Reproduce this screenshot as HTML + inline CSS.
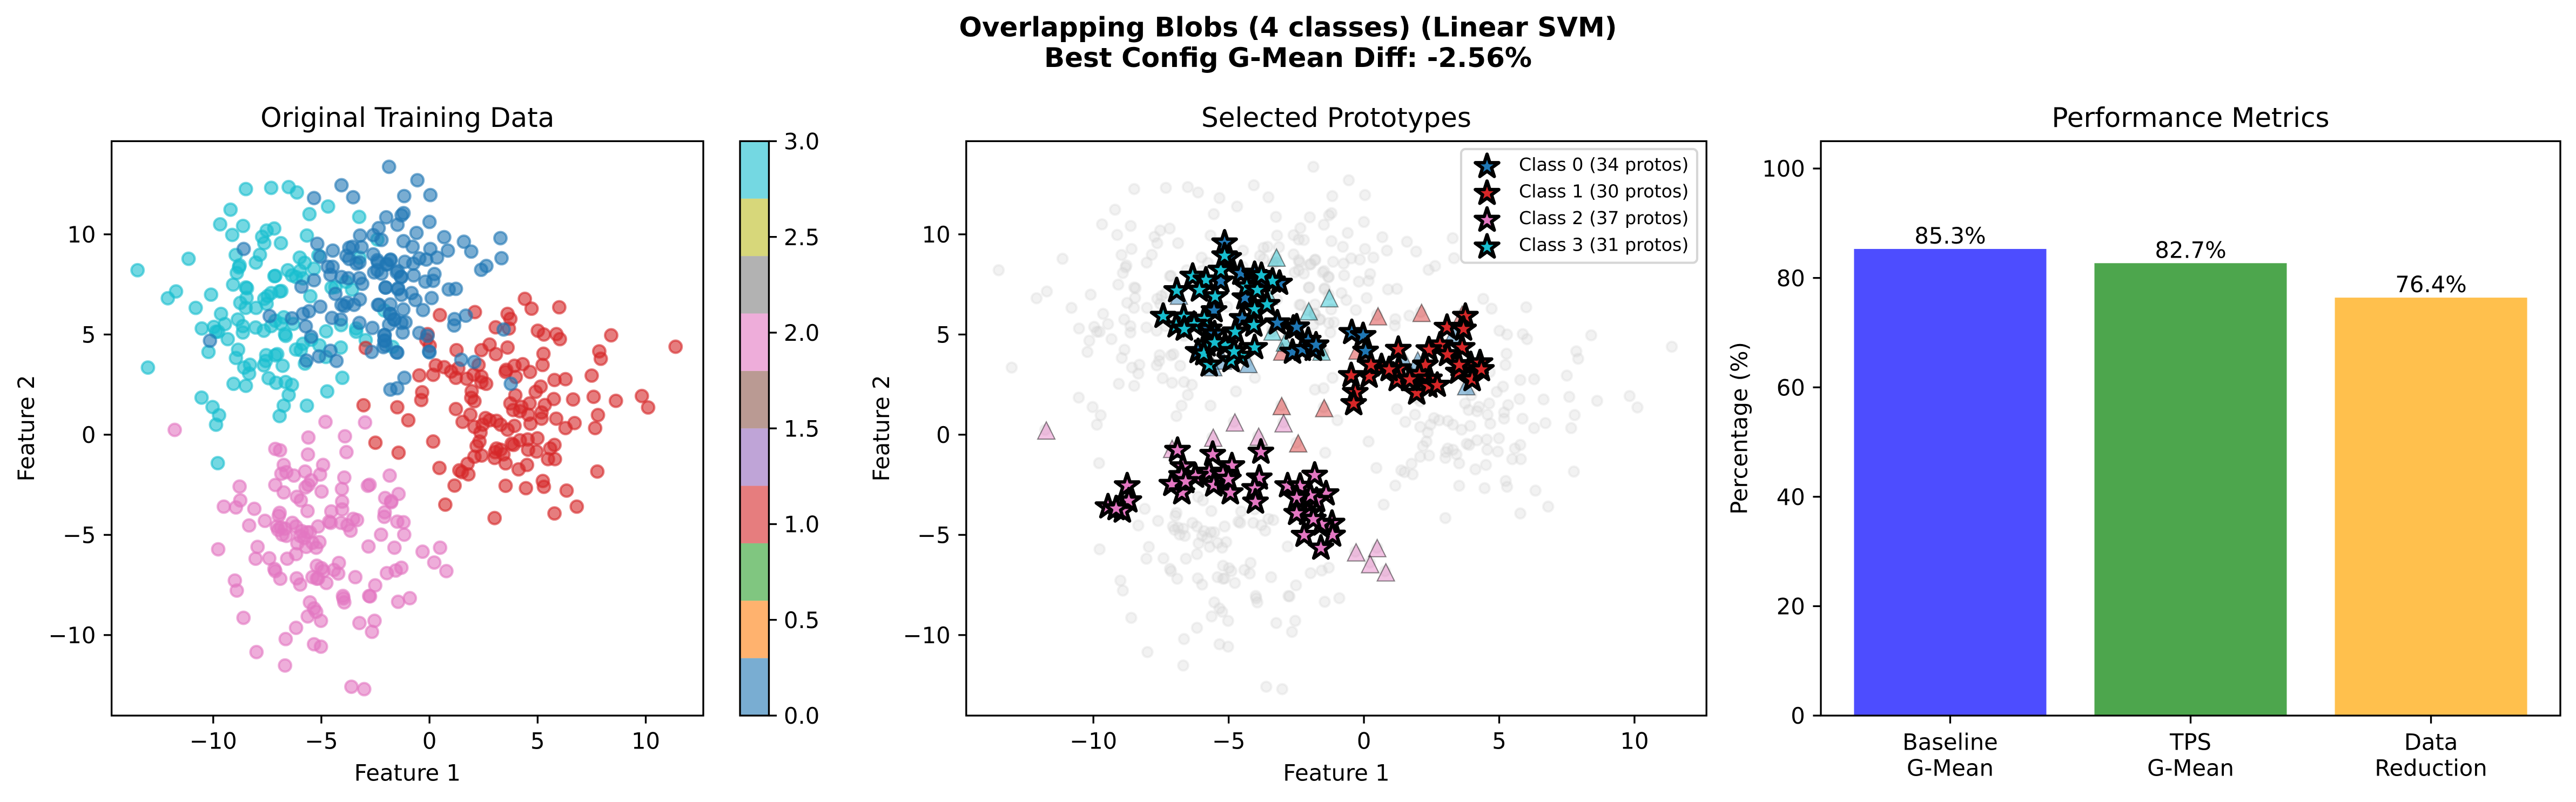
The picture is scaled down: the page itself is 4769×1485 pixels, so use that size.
<!DOCTYPE html>
<html lang="en">
<head>
<meta charset="utf-8">
<title>Overlapping Blobs (4 classes) (Linear SVM)</title>
<style>
html,body{margin:0;padding:0;background:#fff;}
svg{display:block;}
text{font-family:"DejaVu Sans","Liberation Sans",sans-serif;fill:#000;}
</style>
</head>
<body>
<svg id="chart" xmlns="http://www.w3.org/2000/svg" width="4769" height="1485" viewBox="0 0 4769 1485">
<rect x="0" y="0" width="4769" height="1485" fill="#fff"/>
<text x="2384.5" y="67.5" text-anchor="middle" font-size="50" font-weight="bold">Overlapping Blobs (4 classes) (Linear SVM)</text>
<text x="2384.5" y="124" text-anchor="middle" font-size="50" font-weight="bold">Best Config G-Mean Diff: -2.56%</text>
<text x="754.3" y="235" text-anchor="middle" font-size="50">Original Training Data</text>
<text x="2474" y="235" text-anchor="middle" font-size="50">Selected Prototypes</text>
<text x="4055.5" y="235" text-anchor="middle" font-size="50">Performance Metrics</text>
<text x="754.3" y="1445.5" text-anchor="middle" font-size="41.67">Feature 1</text>
<text x="2474" y="1445.5" text-anchor="middle" font-size="41.67">Feature 1</text>
<text transform="translate(63,793) rotate(-90)" text-anchor="middle" font-size="41.67">Feature 2</text>
<text transform="translate(1646,793) rotate(-90)" text-anchor="middle" font-size="41.67">Feature 2</text>
<text transform="translate(3234.5,793) rotate(-90)" text-anchor="middle" font-size="41.67">Percentage (%)</text>
<g id="layer-training"></g>
<g id="layer-colorbar"></g>
<g id="layer-proto"></g>
<g id="layer-bars"></g>
<g id="layer-axes"></g>
<g>
<rect x="2705" y="276" width="437" height="210.6" rx="8" ry="8" fill="#fff" fill-opacity="0.8" stroke="#d6d6d6" stroke-width="4.17"/>
<g id="layer-legend-markers"></g>
<text x="2812" y="316" font-size="33.33">Class 0 (34 protos)</text>
<text x="2812" y="365.5" font-size="33.33">Class 1 (30 protos)</text>
<text x="2812" y="415" font-size="33.33">Class 2 (37 protos)</text>
<text x="2812" y="464.5" font-size="33.33">Class 3 (31 protos)</text>
</g>
</svg>
<script>
// ---------- chart data ----------
const trainClass0 = [[-1.87,13.37],[-0.56,12.70],[-4.07,12.45],[-5.34,11.81],[-3.53,11.85],[-1.17,11.91],[0.04,11.96],[-2.0,10.85],[-1.2,11.06],[-1.29,10.95],[-1.48,10.48],[-2.35,10.31],[-0.6,10.07],[0.0,10.62],[-2.6,9.96],[-2.22,9.72],[-3.21,9.94],[-5.19,9.53],[-4.47,9.19],[-8.59,9.27],[-1.2,9.66],[-0.78,9.38],[0.04,9.27],[0.68,9.86],[1.59,9.63],[1.93,9.14],[0.85,9.19],[3.28,9.81],[3.33,8.81],[2.63,8.42],[2.39,8.23],[0.35,8.84],[-0.15,8.74],[-0.47,8.80],[-1.14,8.63],[-0.75,8.54],[-1.81,8.71],[-2.0,8.49],[-2.38,8.6],[-0.73,7.95],[0.23,8.02],[0.17,7.68],[-0.19,7.64],[-1.47,8.17],[-1.30,7.87],[-2.03,7.34],[-1.46,7.26],[-1.30,6.98],[-0.83,7.07],[-0.65,6.72],[0.1,6.82],[0.89,7.25],[1.22,7.28],[-2.38,6.48],[-1.81,6.5],[-1.21,6.25],[-0.3,6.22],[-1.81,6.03],[-1.62,5.75],[-1.30,5.58],[-1.87,5.49],[-1.11,5.61],[-1.24,5.10],[-0.47,5.08],[-0.09,4.93],[-2.07,4.97],[-2.07,4.69],[-2.13,4.37],[-1.49,4.1],[-0.02,4.15],[0,4.11],[1.47,3.74],[2.07,3.63],[1.16,5.77],[1.14,5.45],[1.68,5.94],[3.43,5.25],[-1.16,2.84],[-1.49,2.32],[-1.81,2.25],[3.76,2.54],[-3.71,9.33],[-3.56,9.38],[-3.14,9.36],[-5.05,8.88],[-3.84,8.93],[-3.71,8.77],[-3.37,8.54],[-3.24,8.60],[-2.6,9.0],[-2.41,8.71],[-1.8,8.74],[-1.96,8.52],[-4.7,8.38],[-4.48,8.38],[-4.58,7.98],[-4.07,7.87],[-3.75,7.81],[-3.24,7.81],[-3.11,7.53],[-5.34,7.71],[-5.92,7.39],[-2.56,8.10],[-2.41,8.21],[-2.22,8.04],[-1.52,8.1],[-1.32,7.87],[-4.35,7.03],[-2.03,7.35],[-1.45,7.31],[-3.22,6.75],[-4.07,6.48],[-3.81,6.59],[-3.94,6.42],[-3.49,6.48],[-5.05,6.39],[-2.33,6.48],[-5.57,6.16],[-5.85,6.03],[-6.36,5.81],[-7.39,5.92],[-4.51,5.83],[-4.1,5.75],[-3.24,5.58],[-2.64,5.33],[-1.83,6.03],[-1.64,5.75],[-5.72,5.41],[-5.47,4.89],[-2.09,4.97],[-2.09,4.69],[-2.03,4.46],[-2.67,4.13],[-1.52,4.11],[-10.15,4.69],[-5.69,3.70],[-5.11,3.91],[-4.58,4.19],[-4.3,3.68]];
const trainClass1 = [[4.41,6.78],[4.72,6.29],[6.0,6.36],[8.40,4.96],[11.38,4.39],[0.48,5.97],[2.1,6.12],[3.61,6.03],[3.74,5.78],[3.06,5.36],[3.67,5.30],[5.01,5.19],[5.29,5.0],[5.87,5.02],[6.03,4.77],[-0.09,5.02],[-0.15,4.74],[0.01,4.44],[1.25,4.22],[2.4,4.22],[2.78,4.50],[3.07,4.02],[3.61,4.35],[5.27,4.04],[5.23,3.48],[7.85,4.16],[7.92,3.79],[7.5,2.95],[2.27,3.48],[0.29,3.46],[0.68,3.37],[1.33,3.31],[1.0,3.15],[-0.47,2.96],[0.17,2.99],[1.22,2.84],[1.72,2.79],[2.04,3.0],[2.4,2.9],[2.4,2.62],[2.62,2.54],[3.55,3.24],[3.52,3.13],[3.93,3.44],[4.31,3.52],[4.65,3.13],[3.99,2.88],[5.78,2.73],[6.29,2.77],[5.14,2.40],[4.91,2.14],[3.97,1.97],[-0.34,2.12],[-0.38,1.73],[1.95,2.17],[1.93,1.84],[2.08,1.67],[1.22,1.28],[-1.49,1.37],[-0.98,0.72],[3.74,1.56],[4.25,1.39],[4.63,1.56],[3.87,1.23],[4.18,1.17],[4.57,1.0],[5.33,1.48],[5.18,1.11],[5.18,0.8],[5.75,1.78],[6.64,1.76],[7.59,1.89],[8.62,1.69],[9.82,1.93],[10.11,1.36],[7.79,0.98],[5.86,0.8],[6.71,0.58],[6.29,0.33],[7.66,0.33],[4.67,0.55],[3.93,0.44],[3.61,0.25],[1.89,1.0],[1.53,0.64],[2.59,0.83],[2.78,0.72],[3.1,0.69],[3.29,0.5],[2.46,0.5],[2.08,0.39],[2.36,0.11],[0.17,-0.34],[-2.5,-0.4],[-1.43,-0.9],[-2.95,4.33],[-3.05,1.47],[2.31,-0.34],[2.18,-0.57],[2.08,-1.1],[2.41,-1.04],[1.76,-1.45],[1.38,-1.78],[1.5,-1.87],[1.8,-1.98],[0.46,-1.66],[1.16,-2.54],[0.73,-3.49],[3.01,-4.16],[3.1,-0.69],[3.03,-0.87],[3.29,-0.75],[3.42,-0.98],[3.01,-1.16],[3.52,-1.43],[3.8,-0.45],[3.89,-0.51],[4.18,-0.28],[4.54,-0.24],[4.99,-0.18],[4.56,-0.75],[4.95,-0.84],[5.58,-0.69],[5.78,-0.51],[5.48,-1.22],[5.8,-1.22],[4.12,-1.73],[4.51,-1.51],[7.76,-1.84],[3.52,-2.55],[4.46,-2.67],[5.24,-2.31],[5.29,-2.6],[6.34,-2.79],[6.81,-3.59],[5.78,-3.93]];
const trainClass2 = [[-11.78,0.24],[-4.81,0.64],[-2.98,0.61],[-5.6,-0.14],[-3.91,-0.08],[-7.13,-0.71],[-6.91,-0.78],[-5.62,-0.99],[-3.84,-0.87],[-6.74,-1.51],[-6.85,-1.95],[-6.62,-1.87],[-6.27,-2.04],[-5.75,-1.84],[-4.92,-1.51],[-5.06,-1.99],[-5.47,-2.28],[-5.6,-2.51],[-5.73,-2.63],[-3.94,-2.14],[-4.05,-2.71],[-4.99,-2.84],[-7.13,-2.51],[-6.74,-2.88],[-6.13,-3.1],[-5.95,-3.28],[-8.78,-2.59],[-8.75,-3.28],[-9.51,-3.59],[-8.95,-3.63],[-8.1,-3.7],[-4.04,-3.34],[-4.04,-3.73],[-5.64,-3.81],[-4.54,-3.83],[-6.93,-3.9],[-6.97,-4.05],[-4.64,-4.34],[-4.57,-4.4],[-4.09,-4.4],[-3.53,-4.2],[-3.35,-4.26],[-3.79,-4.52],[-3.65,-4.79],[-2.85,-2.55],[-2.77,-2.5],[-1.84,-2.04],[-1.43,-2.96],[-2.05,-3.16],[-1.77,-3.32],[-1.77,-3.37],[-2.07,-3.87],[-2.09,-4.1],[-1.49,-4.34],[-1.2,-4.37],[-1.17,-4.99],[-2.24,-4.99],[-5.15,-4.58],[-8.34,-4.53],[-7.61,-4.3],[-7.06,-4.58],[-6.87,-4.63],[-7.0,-4.75],[-6.68,-4.69],[-6.81,-4.99],[-6.62,-5.05],[-6.34,-4.4],[-6.17,-4.58],[-5.91,-4.81],[-5.66,-4.87],[-5.53,-4.87],[-5.98,-5.05],[-5.79,-5.16],[-6.11,-5.42],[-5.7,-5.6],[-5.41,-5.4],[-5.09,-5.36],[-5.24,-5.64],[-6.17,-5.96],[-6.58,-6.19],[-7.41,-6.17],[-8.04,-6.19],[-7.95,-5.6],[-9.77,-5.72],[-2.82,-5.58],[-1.62,-5.64],[-4.19,-6.4],[-5.21,-6.54],[-4.99,-6.66],[-4.9,-6.81],[-4.42,-6.75],[-4.22,-6.93],[-7.17,-6.7],[-7.13,-6.81],[-6.9,-7.19],[-6.14,-7.17],[-5.98,-7.48],[-5.41,-7.11],[-5.21,-7.19],[-5.15,-7.17],[-4.77,-7.4],[-3.43,-7.11],[-1.97,-6.91],[-1.56,-6.78],[-1.3,-6.64],[-2.51,-7.52],[-2.79,-8.05],[-2.75,-8.07],[-4.0,-8.05],[-3.98,-8.17],[-3.94,-8.37],[-1.45,-8.34],[-0.91,-8.16],[-9.0,-7.28],[-8.91,-7.78],[-8.6,-9.14],[-5.53,-8.37],[-5.34,-8.67],[-5.24,-8.84],[-5.63,-9.07],[-5.02,-9.29],[-6.17,-9.64],[-2.54,-9.29],[-3.24,-9.4],[-2.66,-9.84],[-6.65,-10.2],[-5.34,-10.46],[-5.02,-10.58],[-8.0,-10.85],[-6.68,-11.52],[-3.61,-12.58],[-3.02,-12.7],[0.49,-5.64],[-0.32,-5.84],[0.22,-6.38],[0.78,-6.81]];
const trainClass3 = [[-13.50,8.21],[-11.14,8.78],[-12.10,6.81],[-11.72,7.15],[-10.81,6.33],[-10.10,6.99],[-13.02,3.35],[-10.53,5.30],[-10.22,4.13],[-10.54,1.85],[-10.03,1.38],[-9.73,0.97],[-9.87,0.50],[-9.79,-1.42],[-8.49,12.26],[-7.32,12.32],[-6.51,12.36],[-6.13,12.09],[-9.20,11.23],[-5.55,11.01],[-4.69,11.39],[-3.25,10.87],[-9.68,10.50],[-8.62,10.42],[-9.12,9.97],[-7.53,10.19],[-7.18,10.29],[-7.74,9.88],[-7.64,9.56],[-6.87,9.56],[-5.67,9.94],[-2.41,9.74],[-8.96,8.97],[-7.84,8.98],[-8.03,8.59],[-8.78,8.45],[-8.81,8.35],[-8.91,8.07],[-5.14,8.95],[-6.00,8.84],[-5.77,8.58],[-5.34,8.29],[-6.55,8.21],[-5.98,8.18],[-6.36,7.95],[-7.13,7.93],[-7.17,7.91],[-6.17,7.87],[-5.85,7.80],[-3.24,8.84],[-9.08,7.49],[-8.49,7.35],[-8.44,7.31],[-8.46,6.83],[-6.93,7.15],[-6.85,7.17],[-7.32,7.07],[-7.64,6.78],[-7.48,6.92],[-7.53,6.53],[-8.75,6.58],[-8.50,6.33],[-8.02,6.33],[-5.51,6.91],[-4.53,7.34],[-4.35,7.37],[-3.86,7.63],[-3.58,7.24],[-2.09,6.20],[-9.64,6.03],[-9.46,5.52],[-8.86,5.75],[-9.97,5.38],[-9.87,5.14],[-9.77,5.14],[-8.63,5.42],[-8.63,5.10],[-8.04,5.35],[-9.33,4.77],[-7.66,5.19],[-7.32,5.42],[-7.13,5.69],[-6.74,5.86],[-6.87,5.53],[-6.68,5.02],[-6.65,4.93],[-6.30,5.53],[-4.78,5.16],[-4.09,5.47],[-3.39,5.30],[-3.39,5.14],[-2.95,4.72],[-1.71,4.38],[-5.47,4.74],[-5.85,4.54],[-6.17,4.25],[-5.95,4.22],[-5.09,4.46],[-4.10,4.35],[-8.85,4.24],[-8.95,3.83],[-7.55,3.97],[-7.04,4.02],[-7.13,3.96],[-7.57,3.68],[-7.66,3.46],[-8.30,3.49],[-8.57,3.35],[-8.34,3.05],[-6.79,3.44],[-5.76,3.55],[-4.79,3.88],[-7.44,2.82],[-9.06,2.54],[-8.49,2.44],[-7.09,2.59],[-6.65,2.63],[-6.36,2.49],[-4.03,2.84],[-6.51,1.98],[-4.73,2.16],[-6.74,1.45],[-5.67,1.45],[-6.93,0.93]];
const protoClass0 = [[-5.15,9.57],[-5.29,7.67],[-4.55,8.06],[-4.04,8.0],[-3.12,7.56],[-3.79,7.72],[-5.54,6.19],[-4.5,5.8],[-3.2,5.58],[-2.61,5.32],[-2.64,4.12],[-5.0,8.84],[-4.4,6.83],[-5.72,5.27],[-5.52,5.04],[-6.13,4.15],[-2.06,4.71],[-2.485,5.38],[-2.28,4.26],[-1.87,4.26],[-1.77,4.48],[-0.45,5.1],[-0.03,4.95],[0.06,4.17]];
const protoClass1 = [[3.75,5.91],[3.07,5.36],[3.68,5.27],[2.81,4.48],[3.63,4.35],[2.40,4.24],[3.09,4.0],[1.27,4.26],[0.65,3.4],[1.28,3.29],[2.27,3.48],[2.05,3.0],[1.23,2.75],[0.19,2.92],[-0.47,2.95],[-0.32,2.11],[-0.38,1.55],[1.95,2.08],[2.42,2.78],[2.4,2.42],[2.71,2.47],[1.69,2.75],[3.95,3.5],[4.29,3.59],[3.49,3.12],[4.0,2.75],[4.34,3.25],[0.26,3.48],[0.93,3.25],[3.52,3.48]];
const protoClass2 = [[-8.75,-2.55],[-8.69,-3.3],[-9.46,-3.6],[-8.93,-3.81],[-9.16,-3.69],[-6.89,-0.78],[-5.59,-0.98],[-3.81,-0.87],[-6.69,-1.6],[-4.88,-1.55],[-5.72,-1.87],[-6.23,-2.07],[-6.74,-2.04],[-7.1,-2.48],[-6.73,-2.9],[-5.55,-2.51],[-4.94,-2.9],[-3.87,-2.16],[-4.04,-2.69],[-4.01,-3.36],[-2.82,-2.55],[-5.21,-1.98],[-5.01,-2.22],[-6.59,-2.34],[-2.36,-2.57],[-1.82,-2.02],[-1.4,-2.95],[-1.75,-3.28],[-2.08,-3.93],[-1.18,-4.42],[-1.16,-5.01],[-2.21,-5.02],[-1.59,-5.66],[-1.57,-4.46],[-1.98,-3.04],[-1.87,-4.22],[-2.485,-3.16],[-2.485,-3.93]];
const protoClass3 = [[-6.33,7.91],[-6.92,7.19],[-5.84,7.72],[-5.29,8.21],[-5.15,8.93],[-5.5,6.89],[-4.33,7.39],[-3.94,7.22],[-4.04,6.25],[-7.42,5.91],[-6.66,5.88],[-5.9,5.77],[-6.28,5.51],[-6.94,5.43],[-5.8,4.48],[-5.13,4.46],[-4.76,5.13],[-4.07,5.47],[-4.04,4.35],[-4.57,3.92],[-5.72,3.48],[-5.92,4.04],[-4.91,3.7],[-6.08,7.22],[-6.64,5.27],[-3.58,6.5],[-3.38,7.67],[-3.79,7.95],[-4.8,4.15],[-5.52,4.6]];
const missedClass0 = [[-6.84,6.94],[-5.21,3.7],[-4.27,3.53],[-5.57,3.37],[3.78,2.42],[1.49,3.7],[1.99,3.7],[3.32,5.04]];
const missedClass1 = [[-3.02,4.15],[-3.04,1.43],[-2.43,-0.43],[0.52,5.91],[2.13,6.08],[3.63,5.99],[-1.47,1.33],[-0.24,4.2]];
const missedClass2 = [[-11.74,0.21],[-4.77,0.61],[-5.57,-0.15],[-3.89,-0.1],[-2.97,0.57],[-7.09,-0.71],[-0.29,-5.87],[0.49,-5.66],[0.23,-6.46],[0.81,-6.87]];
const missedClass3 = [[-3.23,8.84],[-3.53,6.94],[-3.38,5.15],[-2.92,4.6],[-1.28,6.81],[-2.04,6.16],[-1.57,4.15]];
const scatterXTicks = [-10,-5,0,5,10];
const scatterYTicks = [-10,-5,0,5,10];
const colorbarTicks = [0,0.5,1,1.5,2,2.5,3];
const barCategories = [["Baseline","G-Mean"],["TPS","G-Mean"],["Data","Reduction"]];
const barValues = [85.3,82.7,76.4];
const barYTicks = [0,20,40,60,80,100];
const classColors = ["#1f77b4","#d62728","#e377c2","#17becf"];
const colorbarColors = ["#1f77b4","#ff7f0e","#2ca02c","#d62728","#9467bd","#8c564b","#e377c2","#7f7f7f","#bcbd22","#17becf"];
const barColors = ["#4d4dff","#4da64d","#ffc04d"];

// ---------- geometry and axis functions ----------
const NS = "http://www.w3.org/2000/svg";
const scatterXLim = [-14.7,12.66];
const scatterYLim = [-14.02,14.65];
const barXLim = [-0.538,2.538];
const barYLim = [0,105];
const plotTop = 261.4, plotBottom = 1325;
const linear = (dom, a, b) => v => a + (v - dom[0]) / (dom[1] - dom[0]) * (b - a);
const xTrain = linear(scatterXLim, 206.6, 1302);
const xProto = linear(scatterXLim, 1788.8, 3159.2);
const yScatter = linear(scatterYLim, plotBottom, plotTop);
const xBar = linear(barXLim, 3371, 4740);
const yBar = linear(barYLim, plotBottom, plotTop);
const yColorbar = linear([0,3], plotBottom, plotTop);
const fmtTick = v => (v < 0 ? "\u2212" + (-v) : String(v));

function add(parent, tag, attrs) {
  const el = document.createElementNS(NS, tag);
  for (const k in attrs) el.setAttribute(k, attrs[k]);
  parent.appendChild(el);
  return el;
}
function starPoints(cx, cy, R) {
  const pts = [];
  for (let i = 0; i < 10; i++) {
    const r = i % 2 ? R * 0.381966 : R;
    const a = -Math.PI / 2 + i * Math.PI / 5;
    pts.push((cx + r * Math.cos(a)).toFixed(1) + "," + (cy + r * Math.sin(a)).toFixed(1));
  }
  return pts.join(" ");
}
const STAR_R = 22.8, STAR_EDGE = 6.25, TRI = 16;

// ---------- training scatter ----------
const trainLayer = document.getElementById("layer-training");
[[3,trainClass3],[1,trainClass1],[2,trainClass2],[0,trainClass0]].forEach(([c, pts]) => {
  pts.forEach(p => {
    const dot = add(trainLayer, "circle", {cx:xTrain(p[0]), cy:yScatter(p[1]), r:11.4, fill:classColors[c], "fill-opacity":0.6, stroke:classColors[c], "stroke-opacity":0.6, "stroke-width":4.17});
    
    
  });
});

// ---------- colorbar ----------
const cbLayer = document.getElementById("layer-colorbar");
const cbLeft = 1370, cbRight = 1423.5;
colorbarColors.forEach((col, i) => {
  const y1 = linear([0,colorbarColors.length], plotBottom, plotTop)(i + 1);
  const y0 = linear([0,colorbarColors.length], plotBottom, plotTop)(i);
  const seg = add(cbLayer, "rect", {x:cbLeft, y:y1, width:cbRight-cbLeft, height:y0-y1, fill:col, "fill-opacity":0.6});
  
  
});
const cbFrame = add(cbLayer, "rect", {x:cbLeft, y:plotTop, width:cbRight-cbLeft, height:plotBottom-plotTop, fill:"none", stroke:"#000", "stroke-width":3.33});


colorbarTicks.forEach(v => {
  const y = yColorbar(v);
  const tick = add(cbLayer, "line", {x1:cbRight, x2:cbRight+14.6, y1:y, y2:y, stroke:"#000", "stroke-width":3.33});
  
  
  const lab = add(cbLayer, "text", {x:1451, y:y+15.2, "font-size":41.67});
  lab.textContent = v.toFixed(1);
  
  
});

// ---------- prototype panel ----------
const protoLayer = document.getElementById("layer-proto");
[trainClass3,trainClass1,trainClass2,trainClass0].forEach(pts => {
  pts.forEach(p => {
    const dot = add(protoLayer, "circle", {cx:xProto(p[0]), cy:yScatter(p[1]), r:9.3, fill:"#d3d3d3", "fill-opacity":0.3, stroke:"#d3d3d3", "stroke-opacity":0.3, "stroke-width":4.17});
    
    
  });
});
[missedClass0,missedClass1,missedClass2,missedClass3].forEach((pts, c) => {
  pts.forEach(p => {
    const x = xProto(p[0]), y = yScatter(p[1]);
    const tri = add(protoLayer, "polygon", {points:[[x,y-TRI],[x-TRI,y+TRI],[x+TRI,y+TRI]].map(q => q.join(",")).join(" "), fill:classColors[c], "fill-opacity":0.45, stroke:"#000", "stroke-opacity":0.45, "stroke-width":2.08});
    
    
  });
});
[protoClass0,protoClass1,protoClass2,protoClass3].forEach((pts, c) => {
  pts.forEach(p => {
    const star = add(protoLayer, "polygon", {points:starPoints(xProto(p[0]), yScatter(p[1]), STAR_R), fill:classColors[c], stroke:"#000", "stroke-width":STAR_EDGE, "stroke-linejoin":"round"});
    
    
  });
});
const legendMarkers = document.getElementById("layer-legend-markers");
classColors.forEach((col, c) => {
  const star = add(legendMarkers, "polygon", {points:starPoints(2753, 308.3 + 49.7*c, STAR_R), fill:col, stroke:"#000", "stroke-width":STAR_EDGE, "stroke-linejoin":"round"});
  
  
});

// ---------- bars ----------
const barLayer = document.getElementById("layer-bars");
barValues.forEach((v, i) => {
  const cx = xBar(i), w = xBar(0.4) - xBar(0);
  const bar = add(barLayer, "rect", {x:cx-w, y:yBar(v), width:2*w, height:yBar(0)-yBar(v), fill:barColors[i]});
  
  
  const lab = add(barLayer, "text", {x:cx, y:yBar(v)-10, "text-anchor":"middle", "font-size":41.67});
  lab.textContent = v.toFixed(1) + "%";
  
  
});

// ---------- axes ----------
const axLayer = document.getElementById("layer-axes");
function frame(left, right, name) {
  const r = add(axLayer, "rect", {x:left, y:plotTop, width:right-left, height:plotBottom-plotTop, fill:"none", stroke:"#000", "stroke-width":3.33});
  
  
}
function xTick(px, lines) {
  const t = add(axLayer, "line", {x1:px, x2:px, y1:plotBottom, y2:plotBottom+14.6, stroke:"#000", "stroke-width":3.33});
  
  
  lines.forEach((s, i) => {
    const lab = add(axLayer, "text", {x:px, y:(lines.length > 1 ? 1388.5 : 1386.5) + i*48, "text-anchor":"middle", "font-size":41.67});
    lab.textContent = s;
    
    
  });
}
function yTick(left, py, s) {
  const t = add(axLayer, "line", {x1:left-14.6, x2:left, y1:py, y2:py, stroke:"#000", "stroke-width":3.33});
  
  
  const lab = add(axLayer, "text", {x:left-29.2, y:py+15.2, "text-anchor":"end", "font-size":41.67});
  lab.textContent = s;
  
  
}
frame(206.6, 1302, 'training-axes-frame');
frame(1788.8, 3159.2, 'prototype-axes-frame');
frame(3371, 4740, 'metrics-axes-frame');
scatterXTicks.forEach(v => { xTick(xTrain(v), [fmtTick(v)]); xTick(xProto(v), [fmtTick(v)]); });
scatterYTicks.forEach(v => { yTick(206.6, yScatter(v), fmtTick(v)); yTick(1788.8, yScatter(v), fmtTick(v)); });
barCategories.forEach((lines, i) => xTick(xBar(i), lines));
barYTicks.forEach(v => yTick(3371, yBar(v), String(v)));
</script>
</body>
</html>
